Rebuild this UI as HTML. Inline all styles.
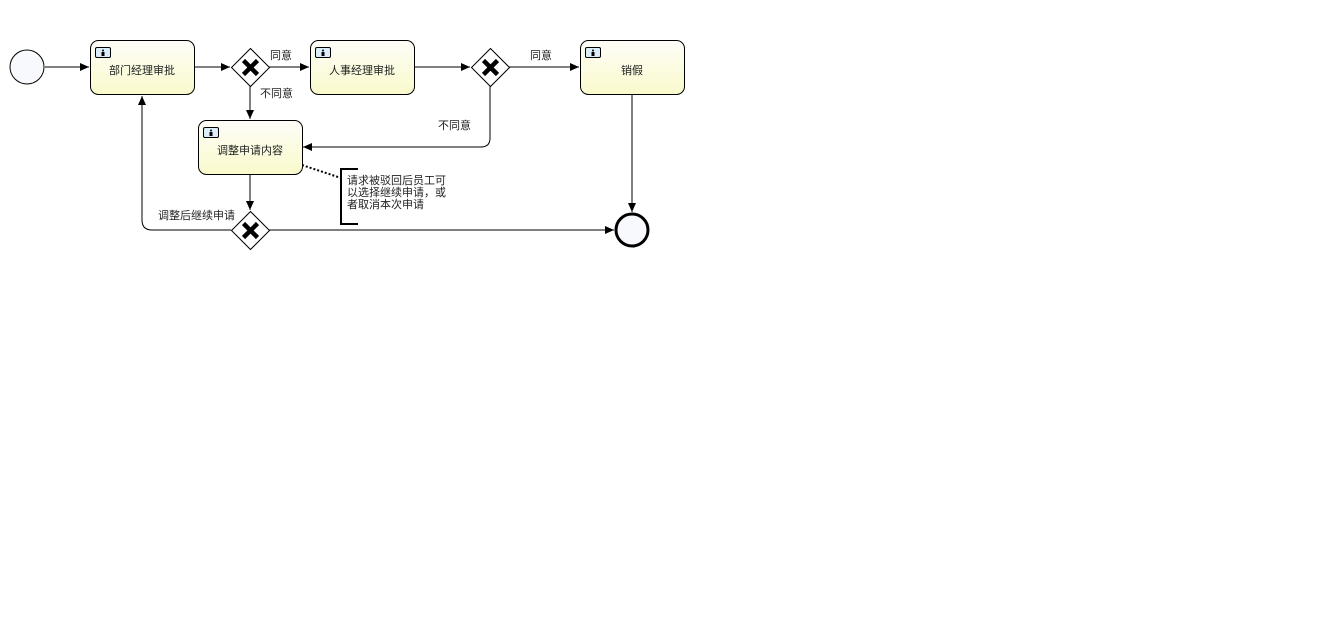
<!DOCTYPE html>
<html><head><meta charset="utf-8"><style>
html,body{margin:0;padding:0;background:#fff;width:1317px;height:627px;overflow:hidden}
text{font-family:"Liberation Sans","Noto Sans CJK SC",sans-serif;font-size:11px;fill:#222}
</style></head><body>
<svg width="1317" height="627" xmlns="http://www.w3.org/2000/svg">
<defs>
<linearGradient id="g" x1="0" y1="0" x2="0" y2="1"><stop offset="0" stop-color="#fdfdf8"/><stop offset="1" stop-color="#fafacc"/></linearGradient>
<marker id="a" markerWidth="10" markerHeight="10" refX="9" refY="4" orient="auto" markerUnits="userSpaceOnUse"><path d="M0,0 L9,4 L0,8 Z" fill="#000"/></marker>
<g id="icon"><rect x="0" y="0" width="15" height="10" rx="1.5" fill="#dbeefa" stroke="#000" stroke-width="1"/><circle cx="7.5" cy="3" r="1" fill="#000"/><rect x="6" y="4.5" width="3" height="4" fill="#000"/></g>
<g id="gw"><path d="M0,-19 L19,0 L0,19 L-19,0 Z" fill="#fff" stroke="#000"/><path d="M-7,-7 L7,7 M7,-7 L-7,7" stroke="#000" stroke-width="4.5"/></g>
</defs>
<g fill="none" stroke="#000" stroke-width="1">
<path d="M45,67 H89" marker-end="url(#a)"/>
<path d="M194,67 H230" marker-end="url(#a)"/>
<path d="M269,67 H309" marker-end="url(#a)"/>
<path d="M414,67 H470" marker-end="url(#a)"/>
<path d="M509,67 H579" marker-end="url(#a)"/>
<path d="M250,86 V119" marker-end="url(#a)"/>
<path d="M490,86 V138 Q490,147 481,147 H303" marker-end="url(#a)"/>
<path d="M632,95 V212" marker-end="url(#a)"/>
<path d="M250,175 V210" marker-end="url(#a)"/>
<path d="M269,230 H614" marker-end="url(#a)"/>
<path d="M231,230 H152 Q142,230 142,220 V96" marker-end="url(#a)"/>
<path d="M302,165 L341,178" stroke-dasharray="2,2" stroke-width="2"/>
<path d="M358,169 H341 V224 H358" stroke-width="2"/>
</g>
<circle cx="27" cy="67" r="17" fill="#f8f9fc" stroke="#000"/>
<circle cx="632" cy="230" r="16" fill="#f8f9fc" stroke="#000" stroke-width="3"/>
<rect x="90.5" y="40.5" width="104" height="54" rx="8" fill="url(#g)" stroke="#000"/>
<rect x="310.5" y="40.5" width="104" height="54" rx="8" fill="url(#g)" stroke="#000"/>
<rect x="580.5" y="40.5" width="104" height="54" rx="8" fill="url(#g)" stroke="#000"/>
<rect x="198.5" y="120.5" width="104" height="54" rx="8" fill="url(#g)" stroke="#000"/>
<use href="#icon" x="95.5" y="47.5"/>
<use href="#icon" x="315.5" y="47.5"/>
<use href="#icon" x="585.5" y="47.5"/>
<use href="#icon" x="203.5" y="127.5"/>
<use href="#gw" x="250.5" y="67.5"/>
<use href="#gw" x="490.5" y="67.5"/>
<use href="#gw" x="250.5" y="230.5"/>
<text x="142" y="74" text-anchor="middle">部门经理审批</text>
<text x="362" y="74" text-anchor="middle">人事经理审批</text>
<text x="632" y="74" text-anchor="middle">销假</text>
<text x="250" y="154" text-anchor="middle">调整申请内容</text>
<text x="270" y="59">同意</text>
<text x="260" y="97">不同意</text>
<text x="530" y="59">同意</text>
<text x="438" y="129">不同意</text>
<text x="158" y="219">调整后继续申请</text>
<text x="347" y="184">请求被驳回后员工可</text>
<text x="347" y="196">以选择继续申请，或</text>
<text x="347" y="208">者取消本次申请</text>
</svg>
</body></html>
